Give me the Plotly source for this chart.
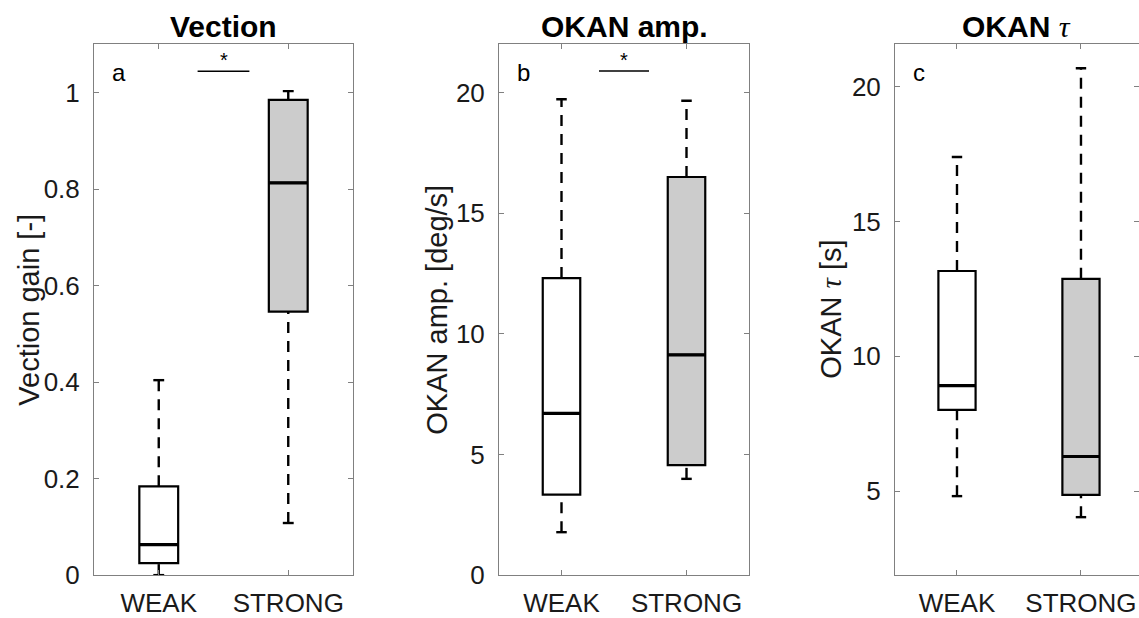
import plotly.graph_objects as go

# ---------------- data ----------------
categories = ["WEAK", "STRONG"]
positions = [1, 2]

# Panel a: Vection gain [-]
vec_low = [0.0, 0.108]
vec_q1 = [0.025, 0.546]
vec_med = [0.063, 0.813]
vec_q3 = [0.184, 0.985]
vec_high = [0.404, 1.003]

# Panel b: OKAN amp. [deg/s]
amp_low = [1.78, 3.99]
amp_q1 = [3.34, 4.56]
amp_med = [6.70, 9.13]
amp_q3 = [12.31, 16.50]
amp_high = [19.72, 19.66]

# Panel c: OKAN tau [s]
tau_low = [4.81, 4.03]
tau_q1 = [8.01, 4.86]
tau_med = [8.91, 6.28]
tau_q3 = [13.16, 12.87]
tau_high = [17.39, 20.68]

TAU = "<span style=\"font-family:'Liberation Serif', serif\"><i>τ</i></span>"
panel_titles = ["<b>Vection</b>", "<b>OKAN amp.</b>", "<b>OKAN</b> " + TAU]
y_titles = ["Vection gain [-]", "OKAN amp. [deg/s]", "OKAN " + TAU + " [s]"]
panel_letters = ["a", "b", "c"]
y_tickvals = [[0, 0.2, 0.4, 0.6, 0.8, 1], [0, 5, 10, 15, 20], [5, 10, 15, 20]]
y_ranges = [[0, 1.1], [0, 22], [1.88, 21.57]]
sig_x = [1.3, 1.7]
sig_y = [1.044, 20.89, None]

fill_colors = ["#ffffff", "#cccccc"]

# ---------------- layout geometry ----------------
W, H = 1139, 618
x_doms_px = [(94, 353), (499, 749), (895, 1139)]
x_ranges = [[0.5, 2.5], [0.5, 2.5], [0.5, 2.468]]


def yfrac(px):
    # paper fraction for a target vertical pixel position (as photographed)
    return (603.2 - px) / 604.7


y_dom = [yfrac(583), yfrac(43.5)]
ytitle_px = [29, 437, 831]

BOX_W = 0.3
CAP = 0.042
FONT = "Liberation Sans, Arial, Helvetica, sans-serif"
AX_COL = "#808080"
TXT_COL = "#1a1a1a"

panels = [
    (vec_low, vec_q1, vec_med, vec_q3, vec_high),
    (amp_low, amp_q1, amp_med, amp_q3, amp_high),
    (tau_low, tau_q1, tau_med, tau_q3, tau_high),
]

fig = go.Figure()
annotations = []

for p, (lo, q1, med, q3, hi) in enumerate(panels):
    xa = "x" if p == 0 else f"x{p+1}"
    ya = "y" if p == 0 else f"y{p+1}"
    for i, pos in enumerate(positions):
        # whiskers (dashed)
        fig.add_trace(go.Scatter(
            x=[pos, pos, None, pos, pos], y=[q3[i], hi[i], None, lo[i], q1[i]],
            mode="lines", line=dict(color="black", width=2.4, dash="11px,8px"),
            xaxis=xa, yaxis=ya, showlegend=False, hoverinfo="skip"))
        # caps
        fig.add_trace(go.Scatter(
            x=[pos - CAP, pos + CAP, None, pos - CAP, pos + CAP],
            y=[hi[i], hi[i], None, lo[i], lo[i]],
            mode="lines", line=dict(color="black", width=2.4),
            xaxis=xa, yaxis=ya, showlegend=False, hoverinfo="skip"))
        # box
        fig.add_trace(go.Box(
            x=[pos], q1=[q1[i]], median=[med[i]], q3=[q3[i]],
            lowerfence=[q1[i]], upperfence=[q3[i]],
            width=BOX_W, whiskerwidth=0, boxpoints=False,
            fillcolor=fill_colors[i], line=dict(color="black", width=2.2),
            xaxis=xa, yaxis=ya, showlegend=False, hoverinfo="skip"))
        # thicker median
        fig.add_trace(go.Scatter(
            x=[pos - BOX_W / 2, pos + BOX_W / 2], y=[med[i], med[i]],
            mode="lines", line=dict(color="black", width=3.2),
            xaxis=xa, yaxis=ya, showlegend=False, hoverinfo="skip"))
    # significance bar
    if sig_y[p] is not None:
        fig.add_trace(go.Scatter(
            x=sig_x, y=[sig_y[p], sig_y[p]], mode="lines",
            line=dict(color="black", width=1.5),
            xaxis=xa, yaxis=ya, showlegend=False, hoverinfo="skip"))
        annotations.append(dict(
            x=sum(sig_x) / 2, y=sig_y[p], xref=xa, yref=ya, text="*",
            showarrow=False, yanchor="bottom", xanchor="center",
            font=dict(family=FONT, size=20, color="black"), yshift=-2))

    x0, x1 = x_doms_px[p]
    xd = [x0 / W, x1 / W]
    axis_common = dict(showgrid=False, zeroline=False, showline=True,
                       linecolor=AX_COL, linewidth=1, ticks="inside",
                       ticklen=5, tickcolor=AX_COL, tickwidth=1,
                       tickfont=dict(family=FONT, size=26, color=TXT_COL))
    xkey = "xaxis" if p == 0 else f"xaxis{p+1}"
    ykey = "yaxis" if p == 0 else f"yaxis{p+1}"
    fig.update_layout(**{
        xkey: dict(domain=xd, range=x_ranges[p], tickvals=positions,
                   ticktext=categories, anchor=ya, mirror="ticks",
                   ticklabelstandoff=5, **axis_common),
        ykey: dict(domain=y_dom, range=y_ranges[p], tickvals=y_tickvals[p],
                   anchor=xa, mirror=("ticks" if p < 2 else False),
                   ticklabelstandoff=8, **axis_common),
    })
    # panel title
    annotations.append(dict(
        x=(x0 + (x1 if p < 2 else 1143)) / 2 / W - (0.002 if p == 2 else 0),
        y=yfrac(25), xref="paper", yref="paper", text=panel_titles[p],
        showarrow=False, xanchor="center", yanchor="middle",
        font=dict(family=FONT, size=30, color="black")))
    # y-axis title
    annotations.append(dict(
        x=ytitle_px[p] / W, y=(y_dom[0] + y_dom[1]) / 2, xref="paper",
        yref="paper", text=y_titles[p], textangle=-90, showarrow=False,
        xanchor="center", yanchor="middle",
        font=dict(family=FONT, size=29, color=TXT_COL)))
    # panel letter
    annotations.append(dict(
        x=0, y=1, xref=f"{xa} domain", yref=f"{ya} domain",
        text=panel_letters[p], showarrow=False, xanchor="left",
        yanchor="middle", xshift=16, yshift=-28,
        font=dict(family=FONT, size=24, color="black")))

# right-side ticks for panel c (axis line cut off by the image edge)
fig.add_trace(go.Scatter(x=[None], y=[None], xaxis="x3", yaxis="y4",
                         showlegend=False, hoverinfo="skip"))
fig.update_layout(yaxis4=dict(
    overlaying="y3", side="right", anchor="x3", range=y_ranges[2],
    tickvals=y_tickvals[2], showticklabels=False, showline=False,
    showgrid=False, zeroline=False, ticks="inside", ticklen=5,
    tickcolor=AX_COL, tickwidth=1))

fig.update_layout(
    width=W, height=H, autosize=False, margin=dict(l=0, r=0, t=0, b=0),
    paper_bgcolor="white", plot_bgcolor="white", showlegend=False,
    boxmode="overlay", annotations=annotations,
    font=dict(family=FONT, color=TXT_COL),
)

fig.write_html("out.html",
               config={"responsive": False, "displayModeBar": False},
               post_script="document.body.style.margin='0';"
                           "document.body.style.overflow='hidden';")
